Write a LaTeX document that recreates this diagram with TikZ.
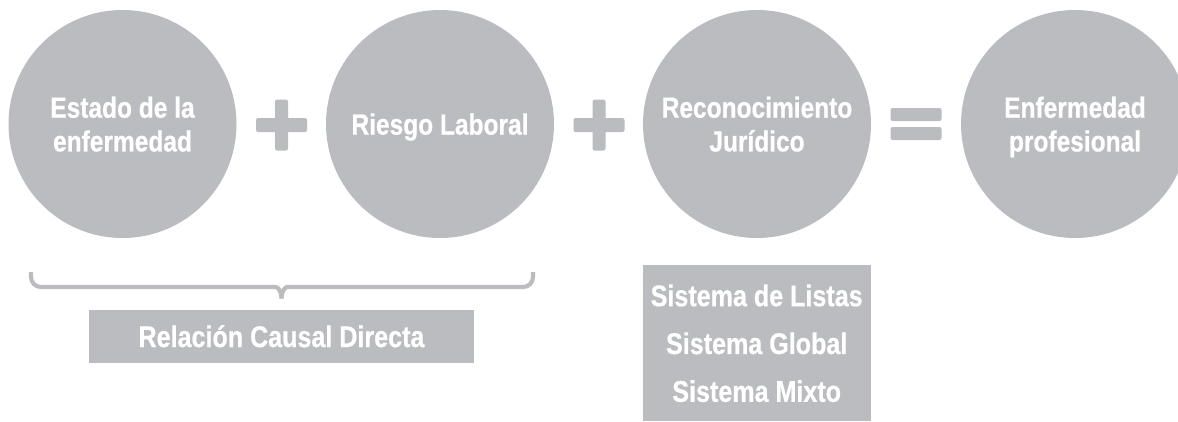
\documentclass[tikz,border=0pt]{standalone}
\usepackage{fontspec}
\newfontfamily\condfont{Liberation Sans}[FakeStretch=0.84,FakeBold=0.6]
\definecolor{gris}{RGB}{187,188,191}
\begin{document}
\begin{tikzpicture}[scale=1,
 circulo/.style={circle,fill=gris,minimum size=2.28cm,inner sep=0pt,text=white,align=center,text depth=0pt,font=\condfont\bfseries\fontsize{8.3}{9.6}\selectfont},
 caja/.style={rectangle,fill=gris,inner sep=0pt,text=white,align=center,font=\condfont\bfseries\fontsize{8.5}{13.6}\selectfont},
 signo/.style={gris,rounded corners=0.6pt},
 llave/.style={gris,line width=0.042cm,rounded corners=0.1cm}]
\clip (0,0) rectangle (11.78,-4.21);
\fill[white] (0,0) rectangle (11.78,-4.21);

 \node (estado) at (1.225,-1.24) [circulo]{Estado de la\\enfermedad};
 \node (riesgo) at (4.40,-1.24) [circulo]{Riesgo Laboral};
 \node (juridico) at (7.57,-1.24) [circulo]{Reconocimiento\\Jurídico};
 \node (profesional) at (10.75,-1.24) [circulo]{Enfermedad\\profesional};

\fill[signo] (2.56,-1.18) rectangle (3.07,-1.32);
\fill[signo] (2.75,-0.995) rectangle (2.88,-1.505);
\fill[signo] (5.735,-1.18) rectangle (6.245,-1.32);
\fill[signo] (5.925,-0.995) rectangle (6.055,-1.505);
\fill[signo] (8.905,-1.08) rectangle (9.415,-1.21);
\fill[signo] (8.905,-1.27) rectangle (9.415,-1.40);

\draw[llave] (0.31,-2.72) -- (0.31,-2.87) -- (2.66,-2.87) .. controls (2.77,-2.87) and (2.815,-2.90) .. (2.815,-2.985);
\draw[llave] (5.33,-2.72) -- (5.33,-2.87) -- (2.97,-2.87) .. controls (2.86,-2.87) and (2.815,-2.90) .. (2.815,-2.985);

 \node (relacion) at (2.815,-3.365) [caja,minimum width=3.85cm,minimum height=0.53cm,text height=6pt,text depth=0pt]{Relación Causal Directa};
 \node (sistemas) at (7.567,-3.433) [caja,minimum width=2.28cm,minimum height=1.56cm]{Sistema de Listas\\Sistema Global\\Sistema Mixto};

\end{tikzpicture}
\end{document}
